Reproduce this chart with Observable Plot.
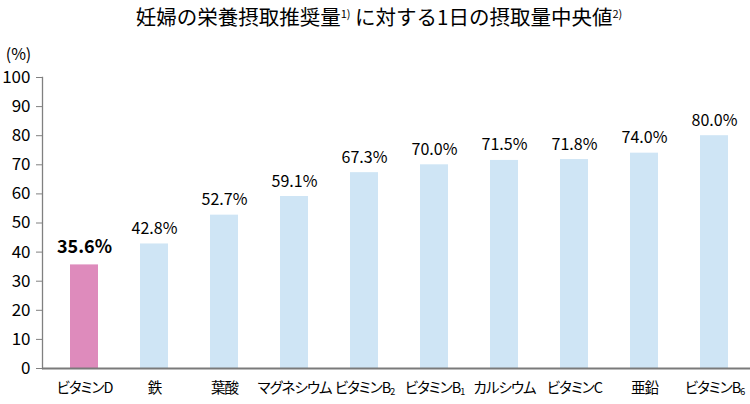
<!DOCTYPE html>
<html>
<head>
<meta charset="utf-8">
<script src="https://cdn.jsdelivr.net/npm/d3@7"></script>
<script src="https://cdn.jsdelivr.net/npm/@observablehq/plot@0.6"></script>
<style>
  html, body { margin: 0; padding: 0; background: #fff; }
  body { width: 750px; height: 404px; overflow: hidden; font-family: "Noto Sans CJK JP", "Noto Sans", sans-serif; }
  #title { height: 30px; line-height: 32px; text-align: center; font-size: 20.5px; color: #000; padding-left: 8px; white-space: nowrap; }
  #title sup { font-size: 11px; vertical-align: 7px; line-height: 0; }
  .xax text { font-feature-settings: "palt" 1; letter-spacing: -1px; }
</style>
</head>
<body>
<div id="title">妊婦の栄養摂取推奨量<sup>1)</sup> に対する1日の摂取量中央値<sup>2)</sup></div>
<div id="chart"></div>
<script>
const categories = ["ビタミンD", "鉄", "葉酸", "マグネシウム", "ビタミンB₂", "ビタミンB₁", "カルシウム", "ビタミンC", "亜鉛", "ビタミンB₆"];
const values = [35.6, 42.8, 52.7, 59.1, 67.3, 70.0, 71.5, 71.8, 74.0, 80.0];
const highlight = [true, false, false, false, false, false, false, false, false, false];
const yTicks = [0, 10, 20, 30, 40, 50, 60, 70, 80, 90, 100];
const yUnit = "(%)";

const data = categories.map((c, i) => ({ name: c, value: values[i], hi: highlight[i] }));

const chart = Plot.plot({
  width: 750,
  height: 374,
  marginTop: 47,
  marginBottom: 36,
  marginLeft: 42,
  marginRight: 0,
  style: { fontFamily: '"Noto Sans CJK JP", "Noto Sans", sans-serif', color: "#000", background: "#fff" },
  x: { domain: categories, paddingInner: 0.6, paddingOuter: 0.343, align: 0.56, label: null },
  y: { domain: [0, 100], label: null },
  marks: [
    Plot.barY(data, { x: "name", y: "value", fill: d => d.hi ? "#de8bbc" : "#cfe5f5" }),
    Plot.frame({ anchor: "left", stroke: "#808080", strokeWidth: 1.3 }),
    Plot.ruleY([0], { stroke: "#7a7a7a", strokeWidth: 2 }),
    Plot.axisY({ ticks: yTicks, tickSize: 6, tickPadding: 6, fontSize: 17, stroke: "#808080", label: null, tickFormat: d => String(d) }),
    Plot.axisX({ tickSize: 0, tickPadding: 14, fontSize: 14.5, label: null, className: "xax" }),
    Plot.text(data.filter(d => !d.hi), { x: "name", y: "value", text: d => d.value.toFixed(1) + "%", lineAnchor: "bottom", dy: -10, fontSize: 16, fill: "#000" }),
    Plot.text(data.filter(d => d.hi), { x: "name", y: "value", text: d => d.value.toFixed(1) + "%", lineAnchor: "bottom", dy: -12, fontSize: 18, fontWeight: "bold", fill: "#000" }),
    Plot.text([yUnit], { text: d => d, frameAnchor: "top-left", dx: -24, dy: -29, fontSize: 16, textAnchor: "middle", fill: "#000" })
  ]
});

// render subscript digits (₁ ₂ ₆) as small lowered tspans
const subMap = { "₀": "0", "₁": "1", "₂": "2", "₃": "3", "₄": "4", "₅": "5", "₆": "6", "₇": "7", "₈": "8", "₉": "9" };
d3.select(chart).selectAll(".xax text").each(function () {
  const t = d3.select(this);
  const s = t.text();
  const last = s.slice(-1);
  if (subMap[last]) {
    t.text(s.slice(0, -1));
    t.append("tspan").attr("font-size", 9).attr("dy", "0.3em").text(subMap[last]);
  }
});
document.getElementById("chart").appendChild(chart);
</script>
</body>
</html>
